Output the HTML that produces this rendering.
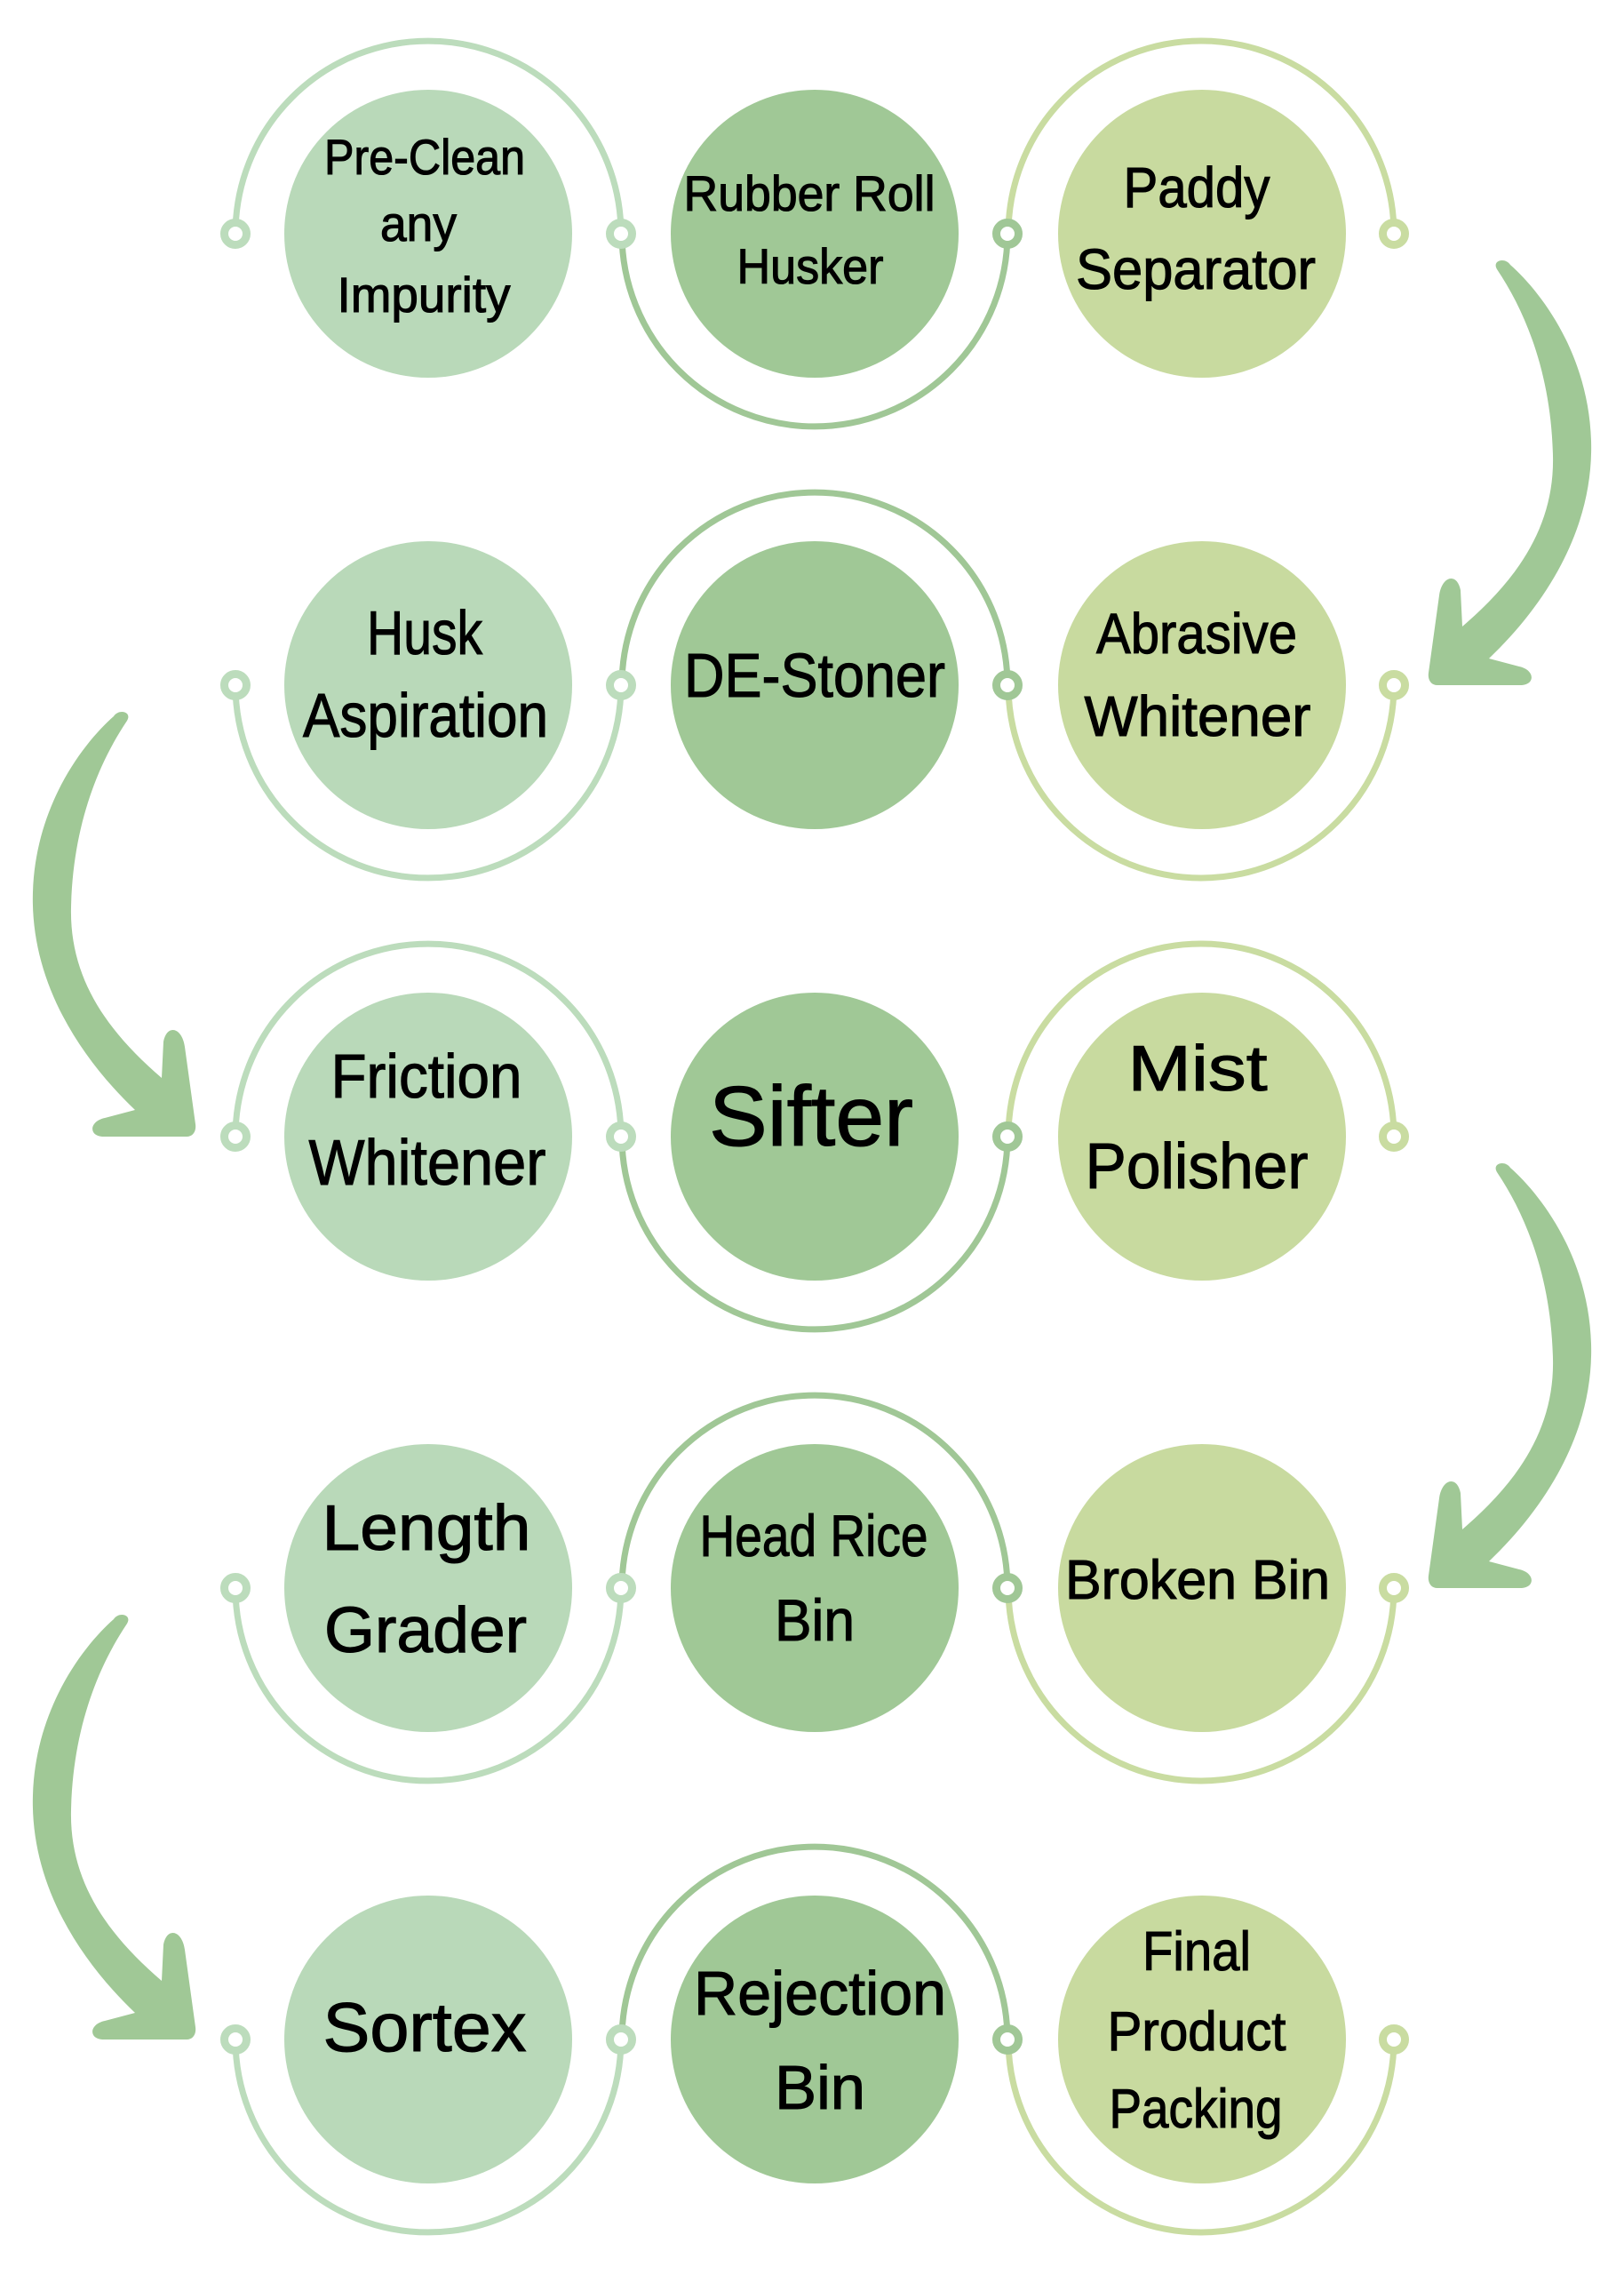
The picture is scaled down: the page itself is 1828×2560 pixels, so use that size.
<!DOCTYPE html>
<html>
<head>
<meta charset="utf-8">
<style>
html,body{margin:0;padding:0;background:#ffffff;}
svg{display:block;}
text{font-family:"Liberation Sans",sans-serif;fill:#000;stroke:#000;stroke-width:1.1px;text-anchor:middle;}
</style>
</head>
<body>
<svg width="1828" height="2560" viewBox="0 0 1828 2560" xmlns="http://www.w3.org/2000/svg">
<defs>
  <path id="arrowL" d="M 128 806 C 95 835, 40 905, 37 1004 C 34 1100, 85 1185, 152 1249 L 118 1258 C 100 1262, 100 1278, 115 1279 L 210 1279 C 218 1279, 221 1272, 220 1265 L 208 1178 C 205 1156, 188 1152, 184 1172 L 182 1213 C 120 1160, 78 1100, 80 1021 C 82 930, 110 860, 143 811 C 149 801, 134 797, 128 806 Z"/>
</defs>

<!-- Arrows -->
<g fill="#a0c896">
  <use href="#arrowL" transform="translate(1828,-508) scale(-1,1)"/>
  <use href="#arrowL"/>
  <use href="#arrowL" transform="translate(1828,508) scale(-1,1)"/>
  <use href="#arrowL" transform="translate(0,1016)"/>
</g>

<!-- Circles -->
<g>
  <circle cx="482" cy="263" r="162" fill="#b9d9b9"/>
  <circle cx="917" cy="263" r="162" fill="#a0c896"/>
  <circle cx="1353" cy="263" r="162" fill="#c8da9f"/>
  <circle cx="482" cy="771" r="162" fill="#b9d9b9"/>
  <circle cx="917" cy="771" r="162" fill="#a0c896"/>
  <circle cx="1353" cy="771" r="162" fill="#c8da9f"/>
  <circle cx="482" cy="1279" r="162" fill="#b9d9b9"/>
  <circle cx="917" cy="1279" r="162" fill="#a0c896"/>
  <circle cx="1353" cy="1279" r="162" fill="#c8da9f"/>
  <circle cx="482" cy="1787" r="162" fill="#b9d9b9"/>
  <circle cx="917" cy="1787" r="162" fill="#a0c896"/>
  <circle cx="1353" cy="1787" r="162" fill="#c8da9f"/>
  <circle cx="482" cy="2295" r="162" fill="#b9d9b9"/>
  <circle cx="917" cy="2295" r="162" fill="#a0c896"/>
  <circle cx="1353" cy="2295" r="162" fill="#c8da9f"/>
</g>

<!-- Rings (semicircle arcs) -->
<g fill="none" stroke-width="7">
  <path d="M 265 263 A 217 217 0 0 1 699 263" stroke="#bcdcbc"/>
  <path d="M 700 263 A 217 217 0 0 0 1134 263" stroke="#a0c796"/>
  <path d="M 1135 263 A 217 217 0 0 1 1569 263" stroke="#c9dca1"/>
  <path d="M 265 771 A 217 217 0 0 0 699 771" stroke="#bcdcbc"/>
  <path d="M 700 771 A 217 217 0 0 1 1134 771" stroke="#a0c796"/>
  <path d="M 1135 771 A 217 217 0 0 0 1569 771" stroke="#c9dca1"/>
  <path d="M 265 1279 A 217 217 0 0 1 699 1279" stroke="#bcdcbc"/>
  <path d="M 700 1279 A 217 217 0 0 0 1134 1279" stroke="#a0c796"/>
  <path d="M 1135 1279 A 217 217 0 0 1 1569 1279" stroke="#c9dca1"/>
  <path d="M 265 1787 A 217 217 0 0 0 699 1787" stroke="#bcdcbc"/>
  <path d="M 700 1787 A 217 217 0 0 1 1134 1787" stroke="#a0c796"/>
  <path d="M 1135 1787 A 217 217 0 0 0 1569 1787" stroke="#c9dca1"/>
  <path d="M 265 2295 A 217 217 0 0 0 699 2295" stroke="#bcdcbc"/>
  <path d="M 700 2295 A 217 217 0 0 1 1134 2295" stroke="#a0c796"/>
  <path d="M 1135 2295 A 217 217 0 0 0 1569 2295" stroke="#c9dca1"/>
</g>

<!-- Connector dots -->
<g fill="#ffffff" stroke-width="9">
  <circle cx="265" cy="263" r="12.5" stroke="#bcdcbc"/>
  <circle cx="699" cy="263" r="12.5" stroke="#bcdcbc"/>
  <circle cx="1134" cy="263" r="12.5" stroke="#a0c796"/>
  <circle cx="1569" cy="263" r="12.5" stroke="#c9dca1"/>

  <circle cx="265" cy="771" r="12.5" stroke="#bcdcbc"/>
  <circle cx="699" cy="771" r="12.5" stroke="#bcdcbc"/>
  <circle cx="1134" cy="771" r="12.5" stroke="#a0c796"/>
  <circle cx="1569" cy="771" r="12.5" stroke="#c9dca1"/>

  <circle cx="265" cy="1279" r="12.5" stroke="#bcdcbc"/>
  <circle cx="699" cy="1279" r="12.5" stroke="#bcdcbc"/>
  <circle cx="1134" cy="1279" r="12.5" stroke="#a0c796"/>
  <circle cx="1569" cy="1279" r="12.5" stroke="#c9dca1"/>

  <circle cx="265" cy="1787" r="12.5" stroke="#bcdcbc"/>
  <circle cx="699" cy="1787" r="12.5" stroke="#bcdcbc"/>
  <circle cx="1134" cy="1787" r="12.5" stroke="#a0c796"/>
  <circle cx="1569" cy="1787" r="12.5" stroke="#c9dca1"/>

  <circle cx="265" cy="2295" r="12.5" stroke="#bcdcbc"/>
  <circle cx="699" cy="2295" r="12.5" stroke="#bcdcbc"/>
  <circle cx="1134" cy="2295" r="12.5" stroke="#a0c796"/>
  <circle cx="1569" cy="2295" r="12.5" stroke="#c9dca1"/>
</g>

<!-- Labels -->
<g>
  <!-- Row 1 -->
  <text x="478" y="196" font-size="56" textLength="226" lengthAdjust="spacingAndGlyphs">Pre-Clean</text>
  <text x="471" y="271" font-size="56" textLength="86" lengthAdjust="spacingAndGlyphs">any</text>
  <text x="477" y="351" font-size="56" textLength="195" lengthAdjust="spacingAndGlyphs">Impurity</text>

  <text x="911" y="237" font-size="56" textLength="283" lengthAdjust="spacingAndGlyphs">Rubber Roll</text>
  <text x="912" y="319" font-size="56" textLength="165" lengthAdjust="spacingAndGlyphs">Husker</text>

  <text x="1347" y="233" font-size="64" textLength="165" lengthAdjust="spacingAndGlyphs">Paddy</text>
  <text x="1346" y="325" font-size="64" textLength="270" lengthAdjust="spacingAndGlyphs">Separator</text>

  <!-- Row 2 -->
  <text x="478" y="736" font-size="70" textLength="130" lengthAdjust="spacingAndGlyphs">Husk</text>
  <text x="479" y="829" font-size="70" textLength="276" lengthAdjust="spacingAndGlyphs">Aspiration</text>

  <text x="917" y="784" font-size="70" textLength="294" lengthAdjust="spacingAndGlyphs">DE-Stoner</text>

  <text x="1347" y="735" font-size="64" textLength="226" lengthAdjust="spacingAndGlyphs">Abrasive</text>
  <text x="1348" y="828" font-size="64" textLength="255" lengthAdjust="spacingAndGlyphs">Whitener</text>

  <!-- Row 3 -->
  <text x="480" y="1235" font-size="70" textLength="215" lengthAdjust="spacingAndGlyphs">Friction</text>
  <text x="481" y="1333" font-size="72" textLength="267" lengthAdjust="spacingAndGlyphs">Whitener</text>

  <text x="913" y="1289" font-size="96" textLength="230" lengthAdjust="spacingAndGlyphs">Sifter</text>

  <text x="1348" y="1227" font-size="72" textLength="157" lengthAdjust="spacingAndGlyphs">Mist</text>
  <text x="1347" y="1337" font-size="72" textLength="251" lengthAdjust="spacingAndGlyphs">Polisher</text>

  <!-- Row 4 -->
  <text x="480" y="1744" font-size="72" textLength="235" lengthAdjust="spacingAndGlyphs">Length</text>
  <text x="479" y="1859" font-size="72" textLength="228" lengthAdjust="spacingAndGlyphs">Grader</text>

  <text x="916" y="1751" font-size="66" textLength="257" lengthAdjust="spacingAndGlyphs">Head Rice</text>
  <text x="917" y="1846" font-size="66" textLength="90" lengthAdjust="spacingAndGlyphs">Bin</text>

  <text x="1348" y="1799" font-size="62" textLength="298" lengthAdjust="spacingAndGlyphs">Broken Bin</text>

  <!-- Row 5 -->
  <text x="478" y="2308" font-size="78" textLength="229" lengthAdjust="spacingAndGlyphs">Sortex</text>

  <text x="923" y="2267" font-size="70" textLength="284" lengthAdjust="spacingAndGlyphs">Rejection</text>
  <text x="923" y="2373" font-size="70" textLength="102" lengthAdjust="spacingAndGlyphs">Bin</text>

  <text x="1347" y="2217" font-size="62" textLength="122" lengthAdjust="spacingAndGlyphs">Final</text>
  <text x="1347" y="2307" font-size="62" textLength="201" lengthAdjust="spacingAndGlyphs">Product</text>
  <text x="1346" y="2394" font-size="62" textLength="195" lengthAdjust="spacingAndGlyphs">Packing</text>
</g>
</svg>
</body>
</html>
